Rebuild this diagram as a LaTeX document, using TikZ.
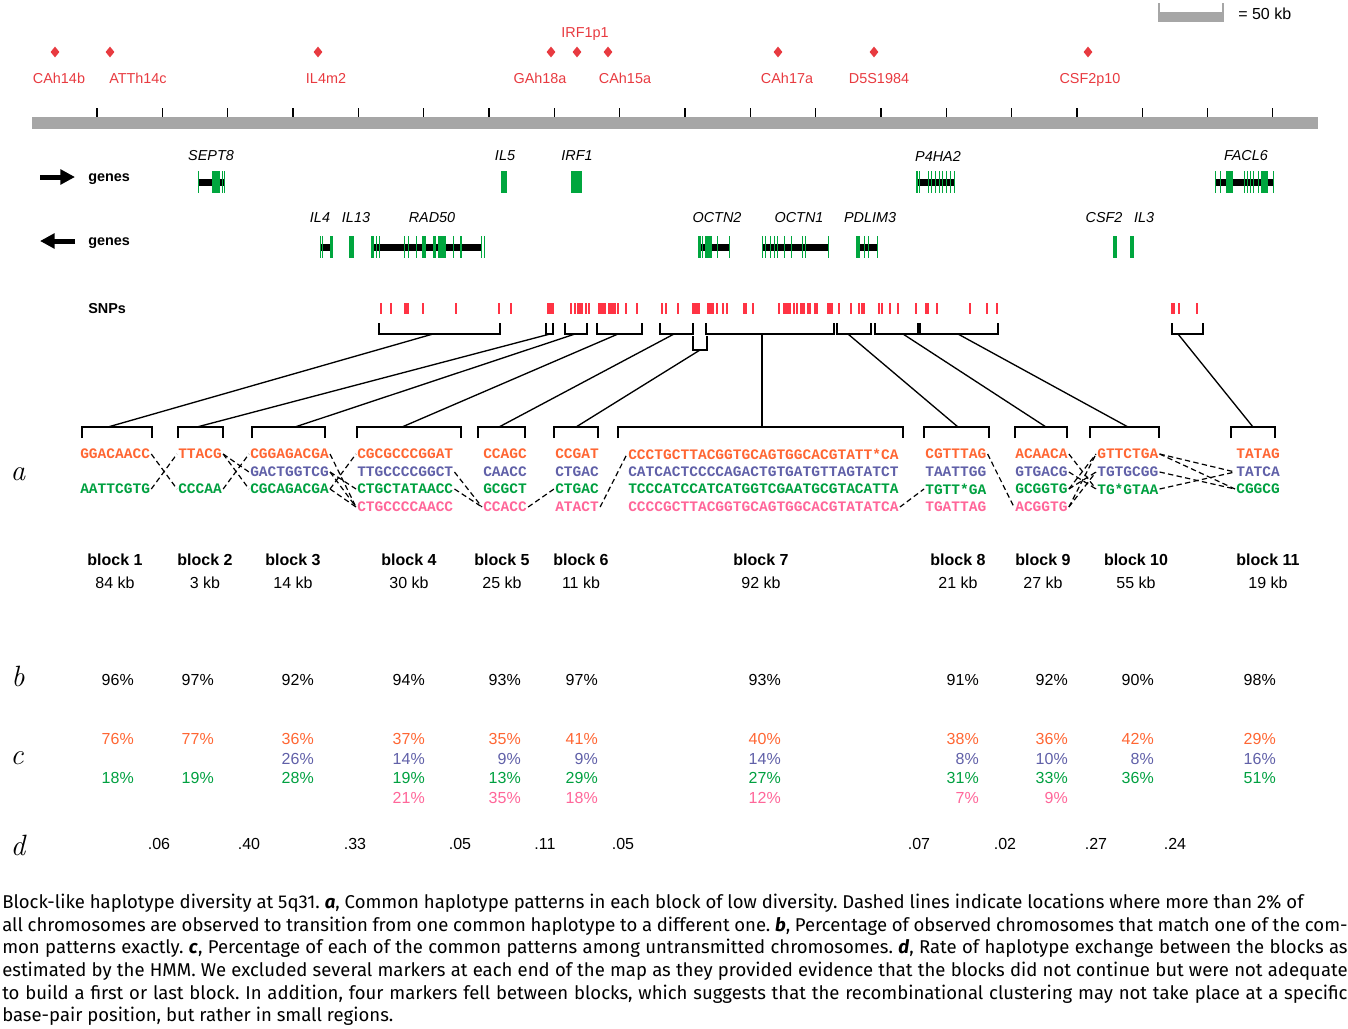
\documentclass[tikz,border=0pt]{standalone}
\usepackage{fontspec}
\usetikzlibrary{shapes.geometric,arrows.meta}
\newfontfamily\arial{Liberation Sans}
\newfontfamily\cour{Liberation Mono}
\newfontfamily\capfont{Fira Sans}
\definecolor{mkred}{RGB}{232,58,64}
\definecolor{snpred}{RGB}{255,51,68}
\definecolor{bargray}{RGB}{166,166,166}
\definecolor{exgreen}{RGB}{0,166,62}
\definecolor{hapo}{RGB}{255,102,51}
\definecolor{hapb}{RGB}{96,96,168}
\definecolor{hapg}{RGB}{0,160,64}
\definecolor{happ}{RGB}{255,102,153}
\tikzset{
  small/.style={font=\arial\fontsize{10.8}{12}\selectfont,inner sep=0pt},
  smallb/.style={font=\arial\bfseries\fontsize{10.8}{12}\selectfont,inner sep=0pt},
  gname/.style={font=\arial\itshape\fontsize{10.8}{12}\selectfont,inner sep=0pt},
  big/.style={font=\arial\fontsize{12}{14}\selectfont,inner sep=0pt},
  bigb/.style={font=\arial\bfseries\fontsize{12}{14}\selectfont,inner sep=0pt},
  panel/.style={font=\itshape\fontsize{22}{24}\selectfont,inner sep=0pt},
  marker/.style={diamond,fill=mkred,inner sep=0pt,minimum width=6.75pt,minimum height=8.25pt},
  intron/.style={line width=5.25pt},
  seq/.style={font=\cour\bfseries\fontsize{10.9}{12}\selectfont,inner sep=0.75pt,anchor=west},
  trans/.style={line width=0.9pt,dash pattern=on 4pt off 2.5pt},
  brk/.style={line width=1.4pt},
  conn/.style={line width=1pt},
  caption/.style={anchor=north west,inner sep=0pt,text width=1009pt,align=justify,
    font=\capfont\fontsize{13.9}{16.95}\selectfont}
}
\begin{document}
\begin{tikzpicture}[x=0.75pt,y=-0.75pt]
  \useasboundingbox (0,0) rectangle (1348,1028);
  % scale bar
  \fill[bargray] (1158,12) rectangle (1224,22);
  \draw[bargray,line width=1.5pt] (1159,3) -- (1159,22) (1223,3) -- (1223,22);
  \node[big,anchor=west] (scale) at (1238,14) {= 50 kb};
  % markers
  \foreach \x/\lx/\ly/\txt [count=\i] in {55/59/83/CAh14b, 110/138/83/ATTh14c,
      318/326/83/IL4m2, 551/540/83/GAh18a, 577/585/37/IRF1p1, 608/625/83/CAh15a,
      778/787/83/CAh17a, 874/879/83/D5S1984, 1088/1090/83/CSF2p10}{
    \node[marker] (m\i) at (\x,52) {};
    \node[small,text=mkred,anchor=base] (ml\i) at (\lx,\ly) {\txt};
  }
  % map
  \fill[bargray] (32,117) rectangle (1318,129);
  \foreach \k in {0,...,18}
    \draw[line width=0.8pt] ({97+65.33*\k},108) -- ({97+65.33*\k},117);
  % genes, forward strand
  \draw[line width=3.75pt,-{Triangle[length=11pt,width=11pt]}] (40,177) -- (75,177);
  \node[smallb,anchor=west] (fwd) at (88,179) {genes};
  \draw[intron] (198,182) -- (225,182) (916,182) -- (954,182) (1215,182) -- (1273,182);
  \foreach \a/\b in {197.5/198.5, 212/220, 221.5/222.5, 223.5/224.5, 501/507, 571/582,
      916/918, 919/920, 927.5/928.5, 930.5/931.5, 934.5/935.5, 938.5/939.5, 942/943,
      945.5/946.5, 950/951, 953.5/954.5, 1214.5/1215.5, 1219.5/1220.5, 1226/1233,
      1243.5/1244.5, 1246.5/1247.5, 1249.5/1250.5, 1252.5/1253.5, 1257.5/1258.5,
      1261/1268, 1272.5/1273.5}
    \fill[exgreen] (\a,171) rectangle (\b,193);
  \foreach \x/\txt in {211/SEPT8, 505/IL5, 577/IRF1, 938/P4HA2, 1246/FACL6}
    \node[gname] at (\x,156) {\txt};
  % genes, reverse strand
  \draw[line width=3.75pt,-{Triangle[length=11pt,width=11pt]}] (75,241) -- (40,241);
  \node[smallb,anchor=west] (rev) at (88,243) {genes};
  \draw[intron] (320,247) -- (331,247) (371,247) -- (482,247) (698,247) -- (729,247)
    (763,247) -- (828,247) (856,247) -- (877,247);
  \foreach \a/\b in {319.5/320.5, 321.5/322.5, 330/332.5, 348.5/354, 370.5/374,
      375.8/376.8, 379/380, 404/405, 407.5/408.5, 415.5/416.5, 422/425.5, 433/436,
      438/445.5, 453/454, 460/462, 480.5/481.5, 483.5/484.5, 697.5/701, 702/703,
      705/711.5, 717.2/718.2, 728.5/729.5, 762/763, 764.5/765.5, 769.5/770.5,
      774.2/775.2, 777.3/778.3, 784/785, 790.5/791.5, 802.2/803.2, 804.5/805.5,
      827.5/828.5, 856/859.7, 864.1/865.1, 867.5/868.5, 876.5/877.5, 1113/1117,
      1130/1133.5}
    \fill[exgreen] (\a,236) rectangle (\b,258);
  \foreach \x/\txt in {320/IL4, 356/IL13, 432/RAD50, 717/OCTN2, 799/OCTN1,
      870/PDLIM3, 1104/CSF2, 1144/IL3}
    \node[gname] at (\x,218) {\txt};
  % SNPs
  \node[smallb,anchor=west] (snps) at (88,309) {SNPs};
  \foreach \x in {381,391,405,406.5,408,423,456,499,511,548,550,552,553.5,571,575,578,
      580,582,586,589,599,601,603,605,609,611,613,615,618,626,637,662,666,678,
      693,695,697,699,708,710,711,713,717,723,727,744,746,753,779,784,786,788,790,
      794,797,801,802.5,804,808,810,815,817,828,830,832,839,851,859,862,864,879,
      882,890,898,916,926,928,937,970,987,997,1172,1174,1179,1197}
    \draw[snpred,line width=1.1pt] (\x,303) -- (\x,314);
  % blocks on the map
  \foreach \n/\l/\r/\m in {1/379/500/433, 2/546/553/550, 3/565/587/575,
      4/597/642/618, 5/660/693/674, 7/706/834/762, 8/837/871/848,
      9/875/918/903, 10/920/998/958, 11/1172/1203/1178}{
    \draw[brk] (\l,323) -- (\l,334) -- (\r,334) -- (\r,323);
    \coordinate (top\n) at (\m,334);
  }
  \draw[brk] (693,336) -- (693,350) -- (707,350) -- (707,336); % block 6 hangs below
  \coordinate (top6) at (700,350);
  % panel a
  \node[panel] (pa) at (18,474) {a};
  \foreach \n/\l/\r/\m in {1/82/152/108, 2/178/223/197, 3/252/325/295,
      4/357/461/402, 5/478/525/499, 6/554/598/576, 7/618/903/762,
      8/924/989/958, 9/1015/1067/1046, 10/1090/1159/1128, 11/1231/1275/1253}{
    \draw[brk] (\l,438) -- (\l,427) -- (\r,427) -- (\r,438);
    \coordinate (hap\n) at (\m,427);
    \draw[conn] (top\n) -- (hap\n);
  }
  \foreach \n/\x/\r/\y/\txt in {
      1/80/o/454/GGACAACC, 1/80/g/489/AATTCGTG,
      2/178/o/454/TTACG, 2/178/g/489/CCCAA,
      3/250/o/454/CGGAGACGA, 3/250/b/472/GACTGGTCG, 3/250/g/489/CGCAGACGA,
      4/357/o/454/CGCGCCCGGAT, 4/357/b/472/TTGCCCCGGCT, 4/357/g/489/CTGCTATAACC,
      4/357/p/507/CTGCCCCAACC,
      5/483/o/454/CCAGC, 5/483/b/472/CAACC, 5/483/g/489/GCGCT, 5/483/p/507/CCACC,
      6/555/o/454/CCGAT, 6/555/b/472/CTGAC, 6/555/g/489/CTGAC, 6/555/p/507/ATACT,
      7/628/o/454/CCCTGCTTACGGTGCAGTGGCACGTATT*CA,
      7/628/b/472/CATCACTCCCCAGACTGTGATGTTAGTATCT,
      7/628/g/489/TCCCATCCATCATGGTCGAATGCGTACATTA,
      7/628/p/507/CCCCGCTTACGGTGCAGTGGCACGTATATCA,
      8/925/o/454/CGTTTAG, 8/925/b/472/TAATTGG, 8/925/g/489/TGTT*GA, 8/925/p/507/TGATTAG,
      9/1015/o/454/ACAACA, 9/1015/b/472/GTGACG, 9/1015/g/489/GCGGTG, 9/1015/p/507/ACGGTG,
      10/1097/o/454/GTTCTGA, 10/1097/b/472/TGTGCGG, 10/1097/g/489/TG*GTAA,
      11/1236/o/454/TATAG, 11/1236/b/472/TATCA, 11/1236/g/489/CGGCG}
    \node[seq,text=hap\r] (s\n\r) at (\x-1,\y) {\txt};
  % switches between blocks
  \foreach \a/\b in {1o/2g, 1g/2o, 2o/3b, 2o/3g, 2g/3o, 3o/4p, 3b/4g, 3b/4p, 3g/4o,
      3g/4p, 4b/5p, 4g/5p, 5p/6g, 6p/7o, 7p/8g, 8o/9p, 9o/10g, 9b/10g, 9g/10o,
      9g/10b, 9p/10o, 9p/10b, 10o/11b, 10o/11g, 10b/11g, 10g/11b}
    \draw[trans] (s\a.east) -- (s\b.west);
  % block names and sizes
  \foreach \n/\c/\kb in {1/115/84, 2/205/3, 3/293/14, 4/409/30, 5/502/25, 6/581/11,
      7/761/92, 8/958/21, 9/1043/27, 10/1136/55, 11/1268/19}{
    \node[bigb] (blk\n) at (\c,560) {block \n};
    \node[big] (kb\n) at (\c,583) {\kb\ kb};
  }
  % panel b
  \node[panel] (pb) at (18,676) {b};
  \foreach \r/\v [count=\i] in {134/96, 214/97, 314/92, 425/94, 521/93, 598/97,
      781/93, 979/91, 1068/92, 1154/90, 1276/98}
    \node[big,anchor=east] (pct\i) at (\r,680) {\v\%};
  % panel c
  \node[panel] (pc) at (17,758) {c};
  \foreach \r/\y/\c/\v [count=\i] in {
      134/739/hapo/76, 134/778/hapg/18,
      214/739/hapo/77, 214/778/hapg/19,
      314/739/hapo/36, 314/759/hapb/26, 314/778/hapg/28,
      425/739/hapo/37, 425/759/hapb/14, 425/778/hapg/19, 425/798/happ/21,
      521/739/hapo/35, 521/759/hapb/9, 521/778/hapg/13, 521/798/happ/35,
      598/739/hapo/41, 598/759/hapb/9, 598/778/hapg/29, 598/798/happ/18,
      781/739/hapo/40, 781/759/hapb/14, 781/778/hapg/27, 781/798/happ/12,
      979/739/hapo/38, 979/759/hapb/8, 979/778/hapg/31, 979/798/happ/7,
      1068/739/hapo/36, 1068/759/hapb/10, 1068/778/hapg/33, 1068/798/happ/9,
      1154/739/hapo/42, 1154/759/hapb/8, 1154/778/hapg/36,
      1276/739/hapo/29, 1276/759/hapb/16, 1276/778/hapg/51}
    \node[big,anchor=east,text=\c] (unt\i) at (\r,\y) {\v\%};
  % panel d
  \node[panel] (pd) at (18,845) {d};
  \foreach \x/\v [count=\i] in {159/06, 249/40, 355/33, 460/05, 545/11, 623/05,
      919/07, 1005/02, 1096/27, 1175/24}
    \node[big] (rate\i) at (\x,844) {.\v};
  % legend text
  \node[caption] (cap) at (2,894) {\tolerance=10000\frenchspacing Block-like haplotype
    diversity at 5q31. \textbf{\textit{a}}, Common haplotype patterns in each block of
    low diversity. Dashed lines indicate locations where more than 2\% of\newline
    all chromosomes are observed to transition from one common haplotype to a different
    one. \textbf{\textit{b}}, Percentage of observed chromosomes that match one of the
    com-\linebreak
    mon patterns exactly. \textbf{\textit{c}}, Percentage of each of the common patterns
    among untransmitted chromosomes. \textbf{\textit{d}}, Rate of haplotype exchange
    between the blocks as\linebreak
    estimated by the HMM. We excluded several markers at each end of the map as they
    provided evidence that the blocks did not continue but were not adequate\linebreak
    to build a first or last block. In addition, four markers fell between blocks, which
    suggests that the recombinational clustering may not take place at a specific\linebreak
    base-pair position, but rather in small regions.};
\end{tikzpicture}
\end{document}
